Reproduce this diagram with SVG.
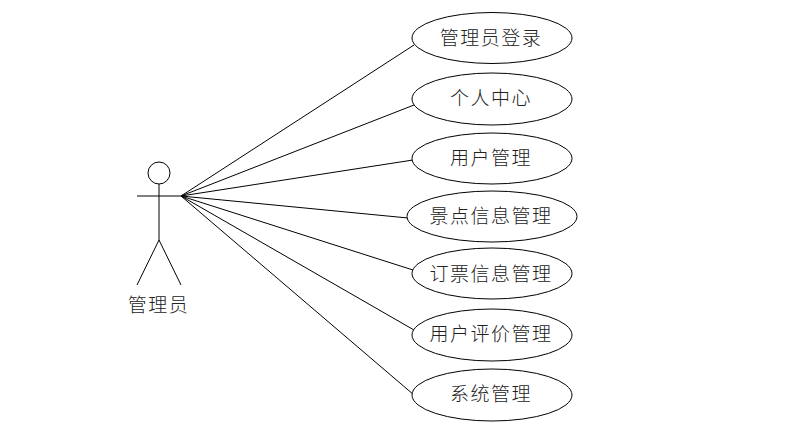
<svg xmlns="http://www.w3.org/2000/svg" width="798" height="446" viewBox="0 0 798 446">
<style>
.s{fill:none;stroke:#000;stroke-width:1}
.e{fill:#fff;stroke:#000;stroke-width:1}
text{font-family:"Noto Sans CJK SC",sans-serif;font-size:19px;font-weight:300;fill:#222;stroke:none;text-anchor:middle;letter-spacing:1.500px}
</style>
<rect width="798" height="446" fill="#fff"/>
<g id="connectors" class="s">
<line x1="181" y1="196" x2="414" y2="45"/>
<line x1="181" y1="196" x2="414" y2="105"/>
<line x1="181" y1="196" x2="413" y2="160"/>
<line x1="181" y1="196" x2="408" y2="218"/>
<line x1="181" y1="196" x2="413" y2="270"/>
<line x1="181" y1="196" x2="414" y2="330"/>
<line x1="181" y1="196" x2="414" y2="395"/>
</g>
<g id="actor">
<g class="s">
<circle cx="159" cy="173" r="11"/>
<line x1="159" y1="184" x2="159" y2="240"/>
<line x1="137" y1="196" x2="181" y2="196"/>
<line x1="159" y1="240" x2="137" y2="285"/>
<line x1="159" y1="240" x2="181" y2="285"/>
</g>
<text x="158.500" y="312">管理员</text>
</g>
<g id="n1"><ellipse class="e" cx="492" cy="38" rx="80" ry="25.500"/><text x="491" y="45">管理员登录</text></g>
<g id="n2"><ellipse class="e" cx="492" cy="99" rx="80" ry="26"/><text x="491" y="105">个人中心</text></g>
<g id="n3"><ellipse class="e" cx="492" cy="158.500" rx="80" ry="25.500"/><text x="491" y="165">用户管理</text></g>
<g id="n4"><ellipse class="e" cx="492" cy="216.500" rx="85" ry="25.500"/><text x="491" y="223">景点信息管理</text></g>
<g id="n5"><ellipse class="e" cx="492" cy="273.500" rx="80" ry="25.500"/><text x="491" y="281">订票信息管理</text></g>
<g id="n6"><ellipse class="e" cx="492" cy="335" rx="80" ry="26"/><text x="491" y="341">用户评价管理</text></g>
<g id="n7"><ellipse class="e" cx="492" cy="395" rx="80" ry="26"/><text x="491" y="401">系统管理</text></g>
</svg>
